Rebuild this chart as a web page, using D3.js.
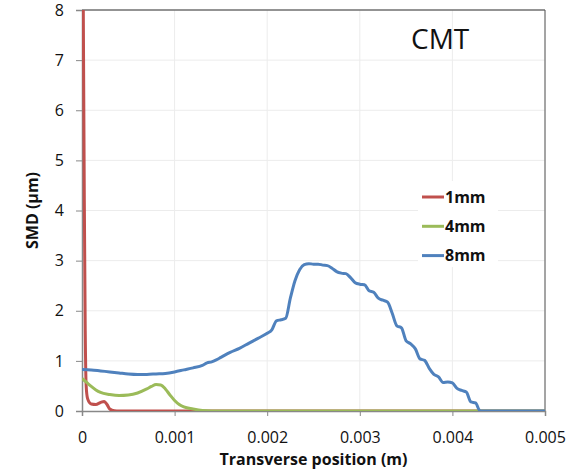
<!DOCTYPE html>
<html>
<head>
<meta charset="utf-8">
<script src="https://cdn.jsdelivr.net/npm/d3@7"></script>
<style>
  body { margin: 0; background: #fff; }
  text { font-family: "Open Sans", sans-serif; }
</style>
</head>
<body>
<div id="chart"></div>
<script>
// series
const x1 = [0.000014, 0.000025, 0.000035, 0.000045, 0.00006, 0.0001, 0.00015, 0.0002, 0.00024, 0.00027, 0.0003, 0.00035, 0.0004, 0.005];
const y1 = [8, 4.2, 1.6, 0.5, 0.25, 0.14, 0.13, 0.17, 0.19, 0.13, 0.04, 0.005, 0, 0];

const x4 = [0, 0.00005, 0.0001, 0.00015, 0.0002, 0.0003, 0.0004, 0.0005, 0.0006, 0.0007, 0.00075, 0.0008, 0.00085, 0.0009, 0.00095, 0.001, 0.00105, 0.0011, 0.0012, 0.0013, 0.0014, 0.005];
const y4 = [0.65, 0.57, 0.49, 0.42, 0.37, 0.33, 0.31, 0.32, 0.36, 0.44, 0.49, 0.53, 0.52, 0.44, 0.32, 0.21, 0.13, 0.08, 0.04, 0.01, 0, 0];

const x8 = [0, 0.0001, 0.0002, 0.0003, 0.0004, 0.0005, 0.0006, 0.0007, 0.0008, 0.0009, 0.001, 0.0011, 0.0012, 0.0013, 0.00135, 0.0014, 0.00145, 0.0015, 0.0016, 0.0017, 0.0018, 0.0019, 0.002, 0.00205, 0.0021, 0.00215, 0.0022, 0.00225, 0.0023, 0.00235, 0.0024, 0.00245, 0.0025, 0.00255, 0.0026, 0.00265, 0.0027, 0.00275, 0.0028, 0.00285, 0.0029, 0.00295, 0.003, 0.00305, 0.0031, 0.00315, 0.0032, 0.00325, 0.0033, 0.00335, 0.0034, 0.00345, 0.0035, 0.00355, 0.0036, 0.00365, 0.0037, 0.00375, 0.0038, 0.00385, 0.0039, 0.00395, 0.004, 0.00405, 0.0041, 0.00415, 0.0042, 0.00425, 0.0043, 0.005];
const y8 = [0.83, 0.82, 0.80, 0.78, 0.76, 0.74, 0.73, 0.73, 0.74, 0.75, 0.78, 0.82, 0.86, 0.91, 0.96, 0.98, 1.02, 1.07, 1.17, 1.25, 1.35, 1.45, 1.55, 1.62, 1.80, 1.82, 1.85, 2.25, 2.6, 2.82, 2.92, 2.94, 2.93, 2.93, 2.91, 2.90, 2.85, 2.78, 2.75, 2.74, 2.66, 2.56, 2.53, 2.52, 2.40, 2.37, 2.25, 2.21, 2.17, 1.95, 1.70, 1.66, 1.40, 1.34, 1.24, 1.04, 1.01, 0.85, 0.73, 0.68, 0.57, 0.58, 0.56, 0.45, 0.41, 0.38, 0.18, 0.16, 0, 0];

const xTicks = [0, 0.001, 0.002, 0.003, 0.004, 0.005];
const yTicks = [0, 1, 2, 3, 4, 5, 6, 7, 8];
const seriesNames = ["1mm", "4mm", "8mm"];
const colors = ["#C0504D", "#9BBB59", "#4F81BD"];

const width = 580, height = 471;
const margin = { top: 10, right: 35, bottom: 60, left: 82 };

const svg = d3.select("#chart")
    .append("svg")
    .attr("width", width)
    .attr("height", height);

const x = d3.scaleLinear()
    .domain([0, 0.005])
    .range([margin.left, width - margin.right]);

const y = d3.scaleLinear()
    .domain([0, 8])
    .range([height - margin.bottom, margin.top]);

// gridlines
svg.append("g")
    .selectAll("line")
    .data(yTicks.slice(1))
    .join("line")
    .attr("x1", x(0)).attr("x2", x(0.005))
    .attr("y1", d => y(d)).attr("y2", d => y(d))
    .attr("stroke", "#ececec");

svg.append("g")
    .selectAll("line")
    .data(xTicks.slice(1))
    .join("line")
    .attr("y1", y(0)).attr("y2", y(8))
    .attr("x1", d => x(d)).attr("x2", d => x(d))
    .attr("stroke", "#ececec");

// frame top / right
svg.append("line")
    .attr("x1", x(0)).attr("x2", x(0.005))
    .attr("y1", y(8)).attr("y2", y(8))
    .attr("stroke", "#333");
svg.append("line")
    .attr("x1", x(0.005)).attr("x2", x(0.005))
    .attr("y1", y(8)).attr("y2", y(0))
    .attr("stroke", "#555");

// axes
const xAxis = svg.append("g")
    .attr("transform", `translate(0,${y(0)})`)
    .call(d3.axisBottom(x).tickValues(xTicks).tickSize(5).tickPadding(16)
        .tickFormat(d => d === 0 ? "0" : d3.format(".3f")(d)));

const yAxis = svg.append("g")
    .attr("transform", `translate(${x(0)},0)`)
    .call(d3.axisLeft(y).tickValues(yTicks).tickSize(6).tickPadding(12));

[xAxis, yAxis].forEach(a => {
    a.select(".domain").attr("stroke", "#888").attr("stroke-width", 1.5);
    a.selectAll(".tick line").attr("stroke", "#888");
    a.selectAll(".tick text")
        .attr("font-family", "Open Sans, sans-serif")
        .attr("font-size", 16)
        .attr("fill", "#111");
});

// lines
const line = d3.line()
    .x(d => x(d[0]))
    .y(d => y(d[1]))
    .curve(d3.curveMonotoneX);

svg.append("clipPath").attr("id", "plot")
    .append("rect")
    .attr("x", x(0)).attr("y", y(8))
    .attr("width", x(0.005) - x(0)).attr("height", y(0) - y(8));

const series = [d3.zip(x1, y1), d3.zip(x4, y4), d3.zip(x8, y8)];

svg.append("g")
    .attr("clip-path", "url(#plot)")
    .selectAll("path")
    .data(series)
    .join("path")
    .attr("d", line)
    .attr("fill", "none")
    .attr("stroke", (d, i) => colors[i])
    .attr("stroke-width", 3)
    .attr("stroke-linejoin", "round");

// legend
const legend = svg.append("g");
legend.append("rect")
    .attr("x", 418).attr("y", 181)
    .attr("width", 80).attr("height", 86)
    .attr("fill", "#fff");

const item = legend.selectAll("g.item")
    .data(seriesNames)
    .join("g")
    .attr("class", "item")
    .attr("transform", (d, i) => `translate(422,${197 + i * 29.3})`);

item.append("line")
    .attr("x1", 0).attr("x2", 22)
    .attr("stroke", (d, i) => colors[i])
    .attr("stroke-width", 3);

item.append("text")
    .attr("x", 23)
    .attr("dy", "0.36em")
    .attr("font-size", 16)
    .attr("font-weight", "bold")
    .attr("fill", "#111")
    .text(d => d);

// title inside plot
svg.append("text")
    .attr("x", 411).attr("y", 48.5)
    .attr("font-size", 28)
    .attr("fill", "#111")
    .text("CMT");

// axis labels
svg.append("text")
    .attr("x", (x(0) + x(0.005)) / 2)
    .attr("y", 465)
    .attr("text-anchor", "middle")
    .attr("font-size", 16)
    .attr("font-weight", "bold")
    .attr("fill", "#111")
    .text("Transverse position (m)");

svg.append("text")
    .attr("transform", `translate(38,${y(4)}) rotate(-90)`)
    .attr("text-anchor", "middle")
    .attr("font-size", 16)
    .attr("font-weight", "bold")
    .attr("fill", "#111")
    .text("SMD (μm)");
</script>
</body>
</html>
